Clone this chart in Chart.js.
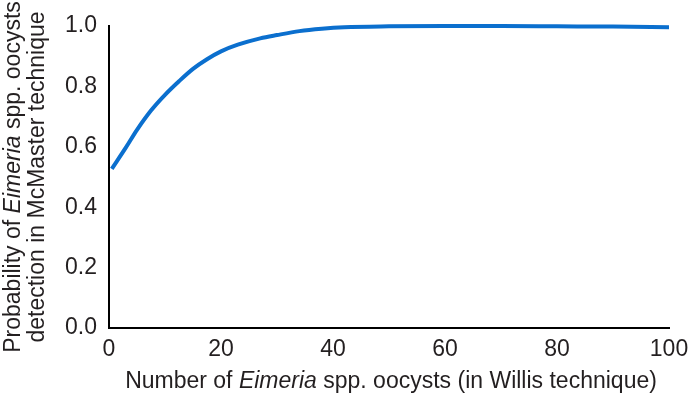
<!DOCTYPE html>
<html>
<head>
<meta charset="utf-8">
<script src="https://cdn.jsdelivr.net/npm/chart.js@4.4.1/dist/chart.umd.min.js"></script>
<style>
    html, body { margin: 0; padding: 0; background: #fff; }
    #wrap { width: 688px; height: 396px; position: relative; }
</style>
</head>
<body>
<div id="wrap"><canvas id="probChart" width="688" height="396"></canvas></div>
<script>
// values
const oocystCounts = [0.5, 3, 5, 7.5, 10, 12.5, 15, 17.5, 20, 23, 27, 30, 34, 38, 42, 50, 60, 70, 80, 90, 100];
const detectionProb = [0.527, 0.597, 0.656, 0.720, 0.772, 0.817, 0.858, 0.890, 0.916, 0.938, 0.959, 0.970, 0.983, 0.991, 0.996, 0.999, 1.0, 1.0, 0.999, 0.998, 0.996];
const xTicks = [0, 20, 40, 60, 80, 100];
const yTicks = [0.0, 0.2, 0.4, 0.6, 0.8, 1.0];

const FONT = '"Liberation Sans", Arial, sans-serif';
const TEXT_COLOR = '#231f20';
const FONT_SIZE = 23;

// axis titles with italic genus name
const xTitleParts = [['Number of ', false], ['Eimeria', true], [' spp. oocysts (in Willis technique)', false]];
const yTitleLines = [
    [['Probability of ', false], ['Eimeria', true], [' spp. oocysts', false]],
    [['detection in McMaster technique', false]]
];

function drawMixed(ctx, parts, cx, cy, size) {
    let total = 0;
    parts.forEach(p => {
        ctx.font = (p[1] ? 'italic ' : '') + size + 'px ' + FONT;
        total += ctx.measureText(p[0]).width;
    });
    let x = cx - total / 2;
    parts.forEach(p => {
        ctx.font = (p[1] ? 'italic ' : '') + size + 'px ' + FONT;
        ctx.fillText(p[0], x, cy);
        x += ctx.measureText(p[0]).width;
    });
}

const titlePlugin = {
    id: 'axisTitles',
    afterDraw(chart) {
        const ctx = chart.ctx;
        const area = chart.chartArea;
        ctx.save();
        ctx.fillStyle = TEXT_COLOR;
        ctx.textBaseline = 'middle';
        ctx.textAlign = 'left';
        drawMixed(ctx, xTitleParts, 391, 382, FONT_SIZE);

        const midY = (area.top + area.bottom) / 2;
        ctx.translate(0, midY);
        ctx.rotate(-Math.PI / 2);
        drawMixed(ctx, yTitleLines[0], 0, 14, FONT_SIZE);
        drawMixed(ctx, yTitleLines[1], 0, 38, FONT_SIZE);
        ctx.restore();
    }
};

const points = oocystCounts.map((x, i) => ({ x: x, y: detectionProb[i] }));

new Chart(document.getElementById('probChart'), {
    type: 'line',
    data: {
        datasets: [{
            data: points,
            borderColor: '#0b6fce',
            borderWidth: 4,
            pointRadius: 0,
            fill: false,
            cubicInterpolationMode: 'monotone',
            clip: false
        }]
    },
    options: {
        responsive: false,
        animation: false,
        layout: { padding: { top: 26, right: 0, left: 0, bottom: 0 } },
        plugins: {
            legend: { display: false },
            tooltip: { enabled: false }
        },
        scales: {
            x: {
                type: 'linear',
                min: 0,
                max: 100,
                afterBuildTicks: axis => { axis.ticks = xTicks.map(v => ({ value: v })); },
                afterFit: axis => {
                    axis.height = 68;
                    axis.paddingLeft = 0;
                    axis.paddingRight = 19;
                },
                grid: { display: false, drawTicks: false },
                border: { display: true, color: '#000', width: 2 },
                ticks: {
                    color: TEXT_COLOR,
                    font: { family: FONT, size: FONT_SIZE },
                    padding: 8,
                    maxRotation: 0
                }
            },
            y: {
                min: 0,
                max: 1,
                afterBuildTicks: axis => { axis.ticks = yTicks.map(v => ({ value: v })); },
                afterFit: axis => { axis.width = 109; },
                grid: { display: false, drawTicks: false },
                border: { display: true, color: '#000', width: 2 },
                ticks: {
                    color: TEXT_COLOR,
                    font: { family: FONT, size: FONT_SIZE },
                    padding: 12,
                    callback: v => v.toFixed(1)
                }
            }
        }
    },
    plugins: [titlePlugin]
});
</script>
</body>
</html>
